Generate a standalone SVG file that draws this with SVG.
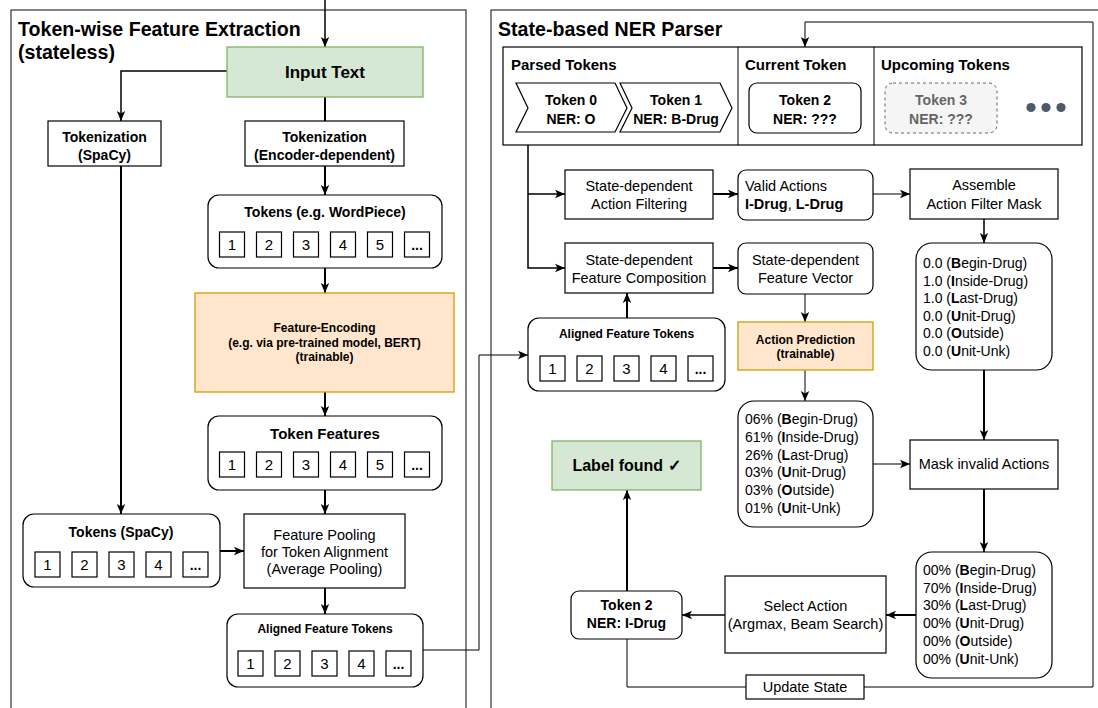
<svg xmlns="http://www.w3.org/2000/svg" width="1098" height="708" viewBox="0 0 1098 708">
<defs>
<style>
text{font-family:"Liberation Sans",Arial,Helvetica,sans-serif;fill:#000}
.panel{fill:none;stroke:#333;stroke-width:1.2}
.box{fill:#fff;stroke:#000;stroke-width:1.2}
.green{fill:#d5e8d4;stroke:#82b366;stroke-width:1.3}
.orange{fill:#ffe6cc;stroke:#d79b00;stroke-width:1.3}
.sq{fill:#fff;stroke:#000;stroke-width:1.2}
.c1{fill:none;stroke:#000;stroke-width:1}
.c15{fill:none;stroke:#000;stroke-width:1.5}
.c2{fill:none;stroke:#000;stroke-width:2}
.t{font-size:14.5px;text-anchor:middle}
.tl{font-size:14px}
.b{font-size:14px;font-weight:bold;text-anchor:middle}
.h{font-size:15px;font-weight:bold}
.title{font-size:19.6px;font-weight:bold}
.s12{font-size:12px;font-weight:bold;text-anchor:middle}
.d{font-size:15px;text-anchor:middle}
.dots{font-size:14px;font-weight:bold;text-anchor:middle}
.gray{fill:#666}
</style>
<marker id="a" markerUnits="userSpaceOnUse" markerWidth="11" markerHeight="10" refX="10" refY="5" orient="auto">
<path d="M0,0.8 L10,5 L0,9.2 L2.5,5 Z" fill="#000"/>
</marker>
</defs>

<!-- panels -->
<g id="panel-left">
<rect class="panel" x="11" y="10" width="455" height="720"/>
<text class="title" x="18" y="36">Token-wise Feature Extraction</text>
<text class="title" x="18" y="59">(stateless)</text>
</g>
<g id="panel-right">
<rect class="panel" x="491" y="10" width="720" height="720"/>
<text class="title" x="498" y="35.5">State-based NER Parser</text>
</g>

<!-- connectors -->
<g id="connectors">
<path class="c15" d="M325,0 V47" marker-end="url(#a)"/>
<path class="c15" d="M227,71 H121 V121" marker-end="url(#a)"/>
<path class="c2" d="M325,97 V121"/>
<path class="c2" d="M325,166 V195" marker-end="url(#a)"/>
<path class="c2" d="M325,268 V293" marker-end="url(#a)"/>
<path class="c2" d="M325,392 V416" marker-end="url(#a)"/>
<path class="c2" d="M325,490 V514" marker-end="url(#a)"/>
<path class="c2" d="M121,166 V514" marker-end="url(#a)"/>
<path class="c2" d="M220,551 H244" marker-end="url(#a)"/>
<path class="c2" d="M325,588 V614" marker-end="url(#a)"/>
<path class="c1" d="M423,650 H479 V355 H528" marker-end="url(#a)"/>
<path class="c15" d="M528,145 V268 H565" marker-end="url(#a)"/>
<path class="c15" d="M528,194 H565" marker-end="url(#a)"/>
<path class="c2" d="M713,194 H738" marker-end="url(#a)"/>
<path class="c1" d="M873,194 H910" marker-end="url(#a)"/>
<path class="c15" d="M984,219 V243" marker-end="url(#a)"/>
<path class="c2" d="M713,268 H738" marker-end="url(#a)"/>
<path class="c2" d="M627,318 V293" marker-end="url(#a)"/>
<path class="c1" d="M805,294 V322" marker-end="url(#a)"/>
<path class="c1" d="M805,370 V401" marker-end="url(#a)"/>
<path class="c1" d="M873,464 H910" marker-end="url(#a)"/>
<path class="c2" d="M984,370 V440" marker-end="url(#a)"/>
<path class="c2" d="M984,489 V552" marker-end="url(#a)"/>
<path class="c2" d="M916,615 H886" marker-end="url(#a)"/>
<path class="c15" d="M725,615 H682" marker-end="url(#a)"/>
<path class="c2" d="M627,591 V490" marker-end="url(#a)"/>
<path class="c1" d="M627,639 V687 H1093 V22 H805 V47" marker-end="url(#a)"/>
</g>

<!-- left panel nodes -->
<g id="input-text">
<rect class="green" x="227" y="47" width="196" height="50"/>
<text x="325" y="78" style="font-size:17px;font-weight:bold;text-anchor:middle">Input Text</text>
</g>
<g id="tok-spacy">
<rect class="box" x="48" y="121" width="113" height="45"/>
<text class="b" x="104.5" y="142">Tokenization</text>
<text class="b" x="104.5" y="160">(SpaCy)</text>
</g>
<g id="tok-encoder">
<rect class="box" x="245" y="121" width="159" height="45"/>
<text class="b" x="324.5" y="142">Tokenization</text>
<text class="b" x="324.5" y="160">(Encoder-dependent)</text>
</g>
<g id="tokens-wordpiece">
<rect class="box" x="208" y="195" width="234" height="73" rx="11"/>
<text class="b" x="325" y="217">Tokens (e.g. WordPiece)</text>
<rect class="sq" x="219.5" y="232" width="25" height="25"/><text class="d" x="232" y="250">1</text>
<rect class="sq" x="256.5" y="232" width="25" height="25"/><text class="d" x="269" y="250">2</text>
<rect class="sq" x="293.5" y="232" width="25" height="25"/><text class="d" x="306" y="250">3</text>
<rect class="sq" x="330.5" y="232" width="25" height="25"/><text class="d" x="343" y="250">4</text>
<rect class="sq" x="367.5" y="232" width="25" height="25"/><text class="d" x="380" y="250">5</text>
<rect class="sq" x="404.5" y="232" width="25" height="25"/><text class="dots" x="417" y="250">...</text>
</g>
<g id="feature-encoding">
<rect class="orange" x="195" y="293" width="259" height="99"/>
<text class="s12" x="324.5" y="332">Feature-Encoding</text>
<text class="s12" x="324.5" y="346.5">(e.g. via pre-trained model, BERT)</text>
<text class="s12" x="324.5" y="361">(trainable)</text>
</g>
<g id="token-features">
<rect class="box" x="208" y="416" width="234" height="74" rx="11"/>
<text x="325" y="439" style="font-size:15px;font-weight:bold;text-anchor:middle">Token Features</text>
<rect class="sq" x="219.5" y="452" width="25" height="25"/><text class="d" x="232" y="470">1</text>
<rect class="sq" x="256.5" y="452" width="25" height="25"/><text class="d" x="269" y="470">2</text>
<rect class="sq" x="293.5" y="452" width="25" height="25"/><text class="d" x="306" y="470">3</text>
<rect class="sq" x="330.5" y="452" width="25" height="25"/><text class="d" x="343" y="470">4</text>
<rect class="sq" x="367.5" y="452" width="25" height="25"/><text class="d" x="380" y="470">5</text>
<rect class="sq" x="404.5" y="452" width="25" height="25"/><text class="dots" x="417" y="470">...</text>
</g>
<g id="tokens-spacy">
<rect class="box" x="23" y="514" width="197" height="73" rx="11"/>
<text class="b" x="121" y="537">Tokens (SpaCy)</text>
<rect class="sq" x="35" y="552" width="25" height="25"/><text class="d" x="47.5" y="570">1</text>
<rect class="sq" x="72" y="552" width="25" height="25"/><text class="d" x="84.5" y="570">2</text>
<rect class="sq" x="109" y="552" width="25" height="25"/><text class="d" x="121.5" y="570">3</text>
<rect class="sq" x="146" y="552" width="25" height="25"/><text class="d" x="158.5" y="570">4</text>
<rect class="sq" x="183" y="552" width="25" height="25"/><text class="dots" x="195.5" y="570">...</text>
</g>
<g id="feature-pooling">
<rect class="box" x="244" y="514" width="161" height="74"/>
<text class="t" x="324.5" y="540">Feature Pooling</text>
<text class="t" x="324.5" y="557">for Token Alignment</text>
<text class="t" x="324.5" y="574">(Average Pooling)</text>
</g>
<g id="aligned-left">
<rect class="box" x="227" y="614" width="196" height="73" rx="11"/>
<text class="s12" x="325" y="633">Aligned Feature Tokens</text>
<rect class="sq" x="238" y="651" width="25" height="25"/><text class="d" x="250.5" y="669">1</text>
<rect class="sq" x="275" y="651" width="25" height="25"/><text class="d" x="287.5" y="669">2</text>
<rect class="sq" x="312" y="651" width="25" height="25"/><text class="d" x="324.5" y="669">3</text>
<rect class="sq" x="349" y="651" width="25" height="25"/><text class="d" x="361.5" y="669">4</text>
<rect class="sq" x="386" y="651" width="25" height="25"/><text class="dots" x="398.5" y="669">...</text>
</g>

<!-- right panel nodes -->
<g id="parser-state">
<rect class="box" x="503" y="47" width="579" height="98"/>
<line class="c1" x1="738" y1="47" x2="738" y2="145"/>
<line class="c1" x1="874" y1="47" x2="874" y2="145"/>
<text class="h" x="511" y="69.5">Parsed Tokens</text>
<text class="h" x="745" y="69.5">Current Token</text>
<text class="h" x="881" y="69.5">Upcoming Tokens</text>
</g>
<g id="token0">
<polygon class="box" points="516,83 615,83 627,108 615,132 516,132 528,108"/>
<text class="b" x="571" y="105">Token 0</text>
<text class="b" x="571" y="124">NER: O</text>
</g>
<g id="token1">
<polygon class="box" points="620,83 720,83 732,108 720,132 620,132 632,108"/>
<text class="b" x="676" y="105">Token 1</text>
<text class="b" x="676" y="124">NER: B-Drug</text>
</g>
<g id="token2-current">
<rect class="box" x="749" y="83" width="112" height="50" rx="8"/>
<text class="b" x="805" y="105">Token 2</text>
<text class="b" x="805" y="124">NER: ???</text>
</g>
<g id="token3">
<rect x="885" y="83" width="112" height="50" rx="8" fill="#f5f5f5" stroke="#666" stroke-width="1" stroke-dasharray="3,3"/>
<text class="b gray" x="941" y="105">Token 3</text>
<text class="b gray" x="941" y="124">NER: ???</text>
</g>
<g id="more-tokens" fill="#4d5a6c">
<circle cx="1031" cy="107.5" r="4.6"/>
<circle cx="1046" cy="107.5" r="4.6"/>
<circle cx="1061" cy="107.5" r="4.6"/>
</g>
<g id="action-filtering">
<rect class="box" x="565" y="170" width="148" height="49"/>
<text class="t" x="639" y="190.5">State-dependent</text>
<text class="t" x="639" y="208.5">Action Filtering</text>
</g>
<g id="valid-actions">
<rect class="box" x="738" y="170" width="135" height="50" rx="8"/>
<text x="745" y="190.5" style="font-size:14.5px">Valid Actions</text>
<text x="745" y="208.5" style="font-size:14.5px"><tspan font-weight="bold">I-Drug</tspan>, <tspan font-weight="bold">L-Drug</tspan></text>
</g>
<g id="assemble-mask">
<rect class="box" x="910" y="169" width="148" height="50"/>
<text class="t" x="984" y="190">Assemble</text>
<text class="t" x="984" y="208.5">Action Filter Mask</text>
</g>
<g id="mask-values">
<rect class="box" x="916" y="243" width="136" height="127" rx="16"/>
<text class="tl" x="923" y="268.3">0.0 (<tspan font-weight="bold">B</tspan>egin-Drug)</text>
<text class="tl" x="923" y="285.8">1.0 (<tspan font-weight="bold">I</tspan>nside-Drug)</text>
<text class="tl" x="923" y="303.3">1.0 (<tspan font-weight="bold">L</tspan>ast-Drug)</text>
<text class="tl" x="923" y="320.8">0.0 (<tspan font-weight="bold">U</tspan>nit-Drug)</text>
<text class="tl" x="923" y="338.3">0.0 (<tspan font-weight="bold">O</tspan>utside)</text>
<text class="tl" x="923" y="355.8">0.0 (<tspan font-weight="bold">U</tspan>nit-Unk)</text>
</g>
<g id="feature-composition">
<rect class="box" x="565" y="243" width="148" height="50"/>
<text class="t" x="639" y="264.5">State-dependent</text>
<text class="t" x="639" y="283">Feature Composition</text>
</g>
<g id="feature-vector">
<rect class="box" x="738" y="243" width="135" height="51" rx="8"/>
<text class="t" x="805.5" y="264.5">State-dependent</text>
<text class="t" x="805.5" y="283">Feature Vector</text>
</g>
<g id="aligned-right">
<rect class="box" x="528" y="318" width="197" height="73" rx="11"/>
<text class="s12" x="626.5" y="338">Aligned Feature Tokens</text>
<rect class="sq" x="540" y="356" width="25" height="25"/><text class="d" x="552.5" y="374">1</text>
<rect class="sq" x="577" y="356" width="25" height="25"/><text class="d" x="589.5" y="374">2</text>
<rect class="sq" x="614" y="356" width="25" height="25"/><text class="d" x="626.5" y="374">3</text>
<rect class="sq" x="651" y="356" width="25" height="25"/><text class="d" x="663.5" y="374">4</text>
<rect class="sq" x="688" y="356" width="25" height="25"/><text class="dots" x="700.5" y="374">...</text>
</g>
<g id="action-prediction">
<rect class="orange" x="738" y="322" width="135" height="48"/>
<text class="s12" x="805.5" y="343.5">Action Prediction</text>
<text class="s12" x="805.5" y="357.5">(trainable)</text>
</g>
<g id="probabilities">
<rect class="box" x="738" y="401" width="135" height="126" rx="16"/>
<text class="tl" x="745" y="424.3">06% (<tspan font-weight="bold">B</tspan>egin-Drug)</text>
<text class="tl" x="745" y="442">61% (<tspan font-weight="bold">I</tspan>nside-Drug)</text>
<text class="tl" x="745" y="459.7">26% (<tspan font-weight="bold">L</tspan>ast-Drug)</text>
<text class="tl" x="745" y="477.4">03% (<tspan font-weight="bold">U</tspan>nit-Drug)</text>
<text class="tl" x="745" y="495.1">03% (<tspan font-weight="bold">O</tspan>utside)</text>
<text class="tl" x="745" y="512.8">01% (<tspan font-weight="bold">U</tspan>nit-Unk)</text>
</g>
<g id="mask-invalid">
<rect class="box" x="910" y="440" width="148" height="49"/>
<text class="t" x="984" y="469">Mask invalid Actions</text>
</g>
<g id="masked-probabilities">
<rect class="box" x="916" y="552" width="136" height="126" rx="16"/>
<text class="tl" x="923" y="575">00% (<tspan font-weight="bold">B</tspan>egin-Drug)</text>
<text class="tl" x="923" y="592.7">70% (<tspan font-weight="bold">I</tspan>nside-Drug)</text>
<text class="tl" x="923" y="610.4">30% (<tspan font-weight="bold">L</tspan>ast-Drug)</text>
<text class="tl" x="923" y="628.1">00% (<tspan font-weight="bold">U</tspan>nit-Drug)</text>
<text class="tl" x="923" y="645.8">00% (<tspan font-weight="bold">O</tspan>utside)</text>
<text class="tl" x="923" y="663.5">00% (<tspan font-weight="bold">U</tspan>nit-Unk)</text>
</g>
<g id="select-action">
<rect class="box" x="725" y="576" width="161" height="77"/>
<text class="t" x="805.5" y="610.5">Select Action</text>
<text class="t" x="805.5" y="628.5">(Argmax, Beam Search)</text>
</g>
<g id="token2-result">
<rect class="box" x="571" y="591" width="111" height="48" rx="8"/>
<text class="b" x="626.5" y="610">Token 2</text>
<text class="b" x="626.5" y="628.3">NER: I-Drug</text>
</g>
<g id="label-found">
<rect class="green" x="552" y="441" width="149" height="49"/>
<text x="626.5" y="471" style="font-size:16px;font-weight:bold;text-anchor:middle">Label found ✓</text>
</g>
<g id="update-state">
<rect class="box" x="746" y="675" width="118" height="24"/>
<text class="t" x="805" y="692">Update State</text>
</g>
</svg>
